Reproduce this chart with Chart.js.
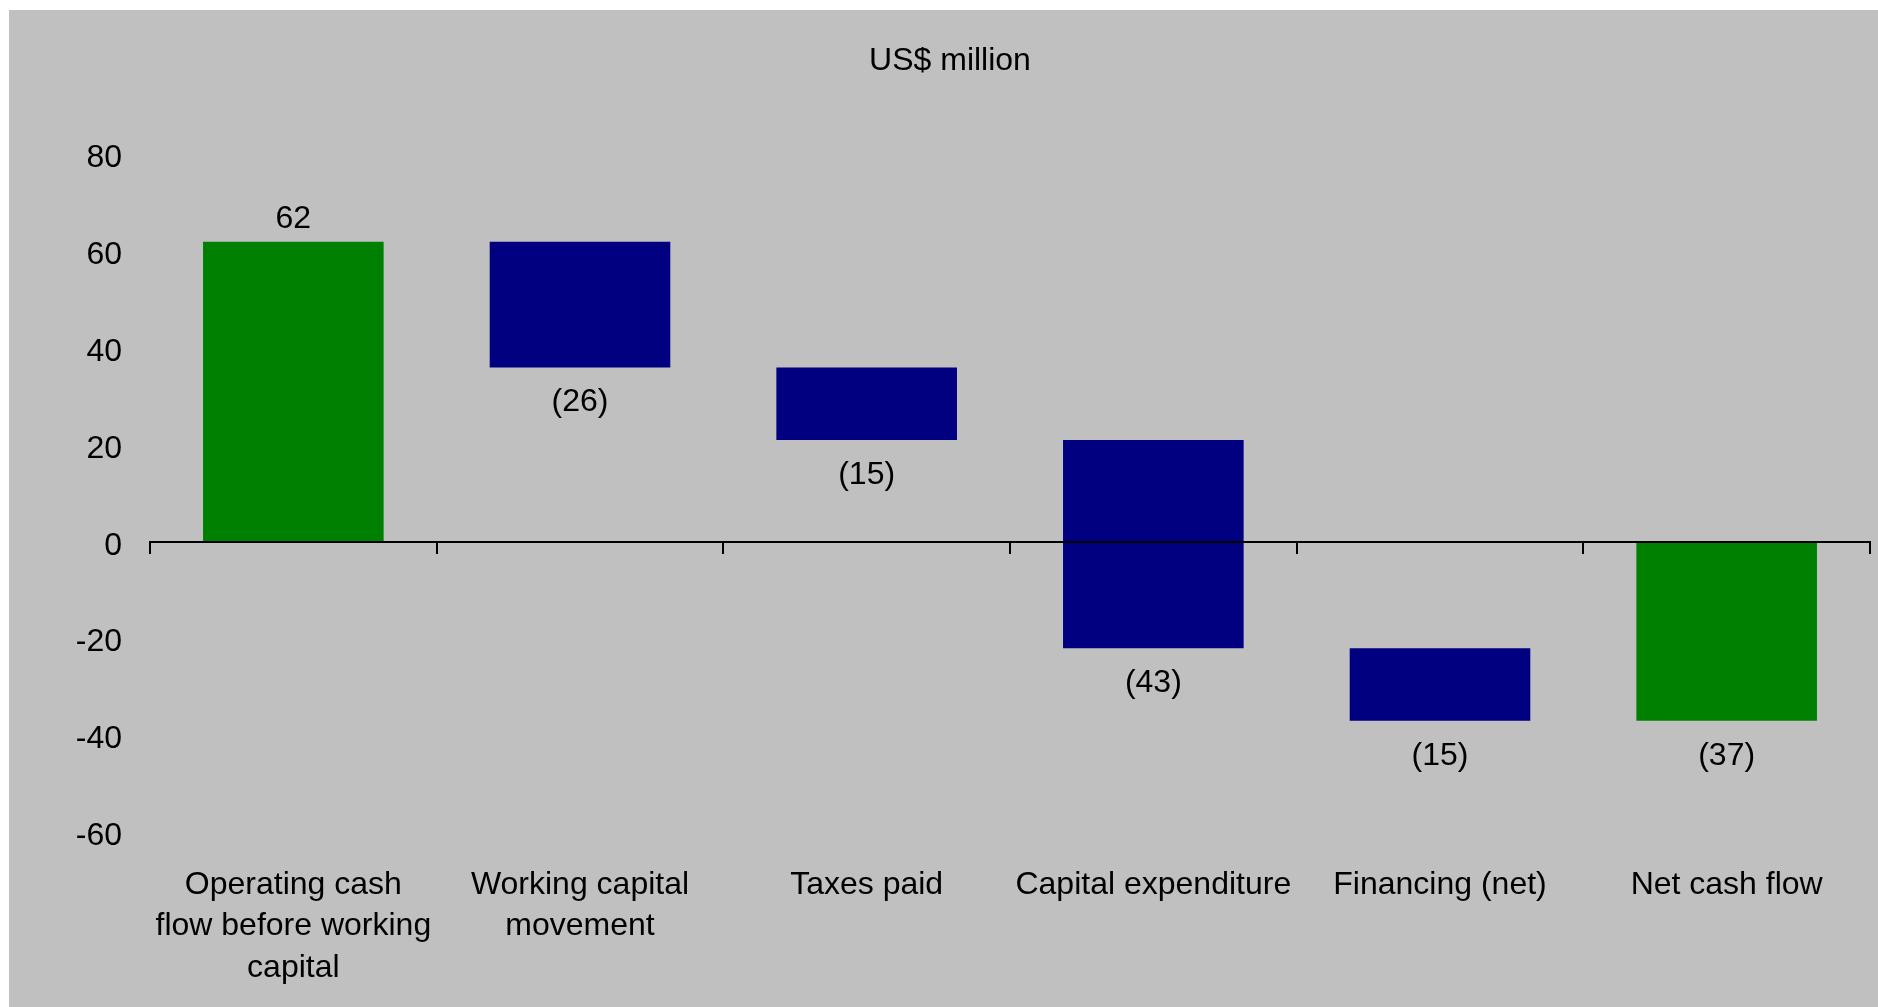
<!DOCTYPE html>
<html>
<head>
<meta charset="utf-8">
<title>Cash flow bridge</title>
<script src="https://cdn.jsdelivr.net/npm/chart.js@4.4.1/dist/chart.umd.min.js"></script>
<style>
  html, body { margin: 0; padding: 0; background: #ffffff; overflow: hidden; }
  #wrap { position: absolute; left: 9px; top: 10px; width: 1869px; height: 997px; background: #c0c0c0; }
</style>
</head>
<body>
<div id="wrap"><canvas id="chart"></canvas></div>
<script>
// Cash flow steps, in US$ million
const categories = [
  ['Operating cash', 'flow before working', 'capital'],
  ['Working capital', 'movement'],
  'Taxes paid',
  'Capital expenditure',
  'Financing (net)',
  'Net cash flow'
];
const movements = [62, -26, -15, -43, -15, -37];
const barKinds = ['total', 'change', 'change', 'change', 'change', 'total'];
const yTicks = [80, 60, 40, 20, 0, -20, -40, -60];

const totalColor = '#008000';
const changeColor = '#000080';
const FONT = "'Liberation Sans', Arial, sans-serif";

// Floating ranges: totals start from zero, changes continue from the running balance
const ranges = [];
let running = 0;
movements.forEach((v, i) => {
  if (barKinds[i] === 'total') {
    ranges.push([0, v]);
    running = v;
  } else {
    ranges.push([running, running + v]);
    running += v;
  }
});

function formatValue(v) {
  return v < 0 ? '(' + Math.abs(v) + ')' : String(v);
}

// Value labels: above positive bars, below negative ones
const valueLabels = {
  id: 'valueLabels',
  afterDatasetsDraw(chart) {
    const ctx = chart.ctx;
    const meta = chart.getDatasetMeta(0);
    ctx.save();
    ctx.font = '32px ' + FONT;
    ctx.fillStyle = '#000';
    ctx.textAlign = 'center';
    ctx.textBaseline = 'alphabetic';
    meta.data.forEach((bar, i) => {
      const p = bar.getProps(['x', 'y', 'base'], true);
      const top = Math.min(p.y, p.base);
      const bottom = Math.max(p.y, p.base);
      const v = movements[i];
      if (v >= 0) {
        ctx.fillText(formatValue(v), p.x, top - 14);
      } else {
        ctx.fillText(formatValue(v), p.x, bottom + 44);
      }
    });
    ctx.restore();
  }
};

Chart.defaults.color = '#000';
Chart.defaults.font.family = FONT;
Chart.defaults.font.size = 32;

new Chart(document.getElementById('chart'), {
  type: 'bar',
  data: {
    labels: categories,
    datasets: [{
      data: ranges,
      backgroundColor: barKinds.map(k => k === 'total' ? totalColor : changeColor),
      borderWidth: 0,
      barPercentage: 0.63,
      categoryPercentage: 1,
      xAxisID: 'x',
      yAxisID: 'y'
    }]
  },
  options: {
    responsive: true,
    maintainAspectRatio: false,
    animation: false,
    events: [],
    layout: { padding: { left: 21, right: 8, top: 0, bottom: 0 } },
    plugins: {
      legend: { display: false },
      tooltip: { enabled: false },
      title: {
        display: true,
        text: 'US$ million',
        color: '#000',
        font: { size: 32, weight: 'normal', family: FONT, lineHeight: 1.2 },
        padding: { top: 32, bottom: 74.1 }
      }
    },
    scales: {
      y: {
        min: -60,
        max: 80,
        afterFit(scale) { scale.width = 120; },
        afterBuildTicks(scale) { scale.ticks = yTicks.map(v => ({ value: v })); },
        grid: { display: false, drawTicks: false },
        border: { display: false },
        ticks: { padding: 28, labelOffset: 4, font: { size: 32 } }
      },
      // zero line with category separators
      x: {
        type: 'category',
        position: { y: 0 },
        offset: true,
        afterFit(scale) { scale.height = 0; },
        grid: {
          offset: true,
          drawOnChartArea: false,
          drawTicks: true,
          tickLength: 11,
          color: '#000',
          lineWidth: 2
        },
        border: { display: true, color: '#000', width: 2, z: 1 },
        ticks: { display: false }
      },
      // category names along the bottom
      x2: {
        type: 'category',
        position: 'bottom',
        offset: true,
        afterFit(scale) { scale.height = 174.8; },
        grid: { display: false, drawTicks: false },
        border: { display: false },
        ticks: {
          padding: 32,
          maxRotation: 0,
          autoSkip: false,
          font: { size: 32, lineHeight: 1.3 }
        }
      }
    }
  },
  plugins: [valueLabels]
});
</script>
</body>
</html>
